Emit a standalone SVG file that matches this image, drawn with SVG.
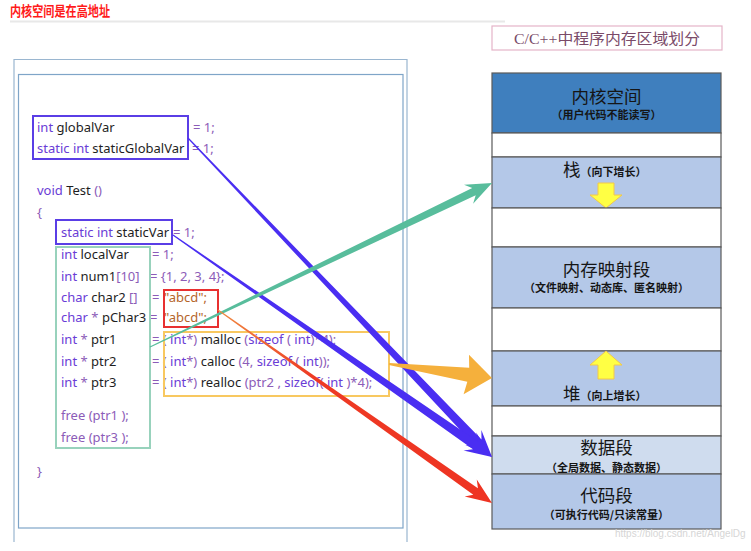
<svg xmlns="http://www.w3.org/2000/svg" width="751" height="551" viewBox="0 0 751 551">
<defs>
<style>
.code{font-family:"Noto Sans","Liberation Sans",sans-serif;font-size:13px}
.k{fill:#6a3cd6}.o{fill:#8c5cb8}.d{fill:#1e1e1e}.s{fill:#b5652a}
.mt{font-family:"Noto Sans CJK SC","Noto Sans",sans-serif;font-size:17.5px;fill:#151515;text-anchor:middle}
.ms{font-family:"Noto Sans CJK SC","Noto Sans",sans-serif;font-size:11px;font-weight:bold;fill:#151515;text-anchor:middle}
.seg{stroke:#5a5a5a;stroke-width:1.2}
.lb{fill:#b4c8e8}
.wh{fill:#ffffff}
.yarrow{fill:#ffff44;stroke:#f2c84a;stroke-width:1}
</style>
<linearGradient id="gRed" x1="0" y1="0" x2="1" y2="0">
<stop offset="0" stop-color="#f08a40"/>
<stop offset="0.35" stop-color="#ee3a24"/>
<stop offset="1" stop-color="#ee3322"/>
</linearGradient>
</defs>
<rect width="751" height="551" fill="#ffffff"/>

<g id="title">
<text x="10" y="16" font-family="Noto Sans CJK SC,sans-serif" font-size="14" font-weight="bold" fill="#ff1a1a" textLength="100" lengthAdjust="spacingAndGlyphs">内核空间是在高地址</text>
<line x1="10" y1="21.5" x2="505" y2="21.5" stroke="#e8e8e8" stroke-width="2"/>
</g>

<g id="caption">
<rect x="492" y="26" width="230" height="24" fill="#ffffff" stroke="#e4b4c8" stroke-width="1.2"/>
<text x="607" y="43.5" font-family="Liberation Serif,Noto Sans CJK SC,serif" font-size="15" fill="#7a4a68" text-anchor="middle" textLength="186" lengthAdjust="spacingAndGlyphs">C/C++中程序内存区域划分</text>
</g>

<g id="code-frame">
<path d="M14,542 L14,59.5 L407,59.5 L407,542" fill="none" stroke="#9ab6d0" stroke-width="1.2"/>
<rect x="18.5" y="74.5" width="384.5" height="453.5" fill="none" stroke="#7fa5c8" stroke-width="1.2"/>
</g>

<g id="code">
<text class="code" x="37" y="132"><tspan class="k">int</tspan> <tspan class="d">globalVar</tspan></text>
<text class="code o" x="193" y="132">= 1;</text>
<text class="code" x="37" y="153"><tspan class="k">static int</tspan> <tspan class="d">staticGlobalVar</tspan></text>
<text class="code o" x="192" y="153">= 1;</text>
<text class="code" x="37" y="195"><tspan class="k">void</tspan> <tspan class="d">Test</tspan> <tspan class="o">()</tspan></text>
<text class="code o" x="37" y="217">{</text>
<text class="code" x="61" y="237"><tspan class="k">static int</tspan> <tspan class="d">staticVar</tspan></text>
<text class="code o" x="173" y="237">= 1;</text>
<text class="code" x="61" y="259"><tspan class="k">int</tspan> <tspan class="d">localVar</tspan></text>
<text class="code o" x="152" y="259">= 1;</text>
<text class="code" x="61" y="281"><tspan class="k">int</tspan> <tspan class="d">num1</tspan><tspan class="o">[10]</tspan></text>
<text class="code o" x="150" y="281">= {1, 2, 3, 4};</text>
<text class="code" x="61" y="302"><tspan class="k">char</tspan> <tspan class="d">char2</tspan> <tspan class="o">[]</tspan></text>
<text class="code o" x="152" y="302">=</text>
<text class="code s" x="164" y="302">"abcd";</text>
<text class="code" x="61" y="322"><tspan class="k">char</tspan> <tspan class="o">*</tspan> <tspan class="d">pChar3</tspan></text>
<text class="code o" x="150" y="322">=</text>
<text class="code s" x="164" y="322">"abcd";</text>
<text class="code" x="61" y="344"><tspan class="k">int</tspan> <tspan class="o">*</tspan> <tspan class="d">ptr1</tspan></text>
<text class="code" x="152" y="344"><tspan class="o">= ( </tspan><tspan class="k">int</tspan><tspan class="o">*)</tspan> <tspan class="d">malloc</tspan> <tspan class="o">(</tspan><tspan class="k">sizeof</tspan> <tspan class="o">( </tspan><tspan class="k">int</tspan><tspan class="o">)*4);</tspan></text>
<text class="code" x="61" y="366"><tspan class="k">int</tspan> <tspan class="o">*</tspan> <tspan class="d">ptr2</tspan></text>
<text class="code" x="152" y="366"><tspan class="o">= ( </tspan><tspan class="k">int</tspan><tspan class="o">*)</tspan> <tspan class="d">calloc</tspan> <tspan class="o">(4,</tspan> <tspan class="k">sizeof</tspan> <tspan class="o">( </tspan><tspan class="k">int</tspan><tspan class="o">));</tspan></text>
<text class="code" x="61" y="387"><tspan class="k">int</tspan> <tspan class="o">*</tspan> <tspan class="d">ptr3</tspan></text>
<text class="code" x="152" y="387"><tspan class="o">= ( </tspan><tspan class="k">int</tspan><tspan class="o">*)</tspan> <tspan class="d">realloc</tspan> <tspan class="o">(ptr2 ,</tspan> <tspan class="k">sizeof</tspan><tspan class="o">( </tspan><tspan class="k">int</tspan> <tspan class="o">)*4);</tspan></text>
<text class="code o" x="61" y="420">free (ptr1 );</text>
<text class="code o" x="61" y="442">free (ptr3 );</text>
<text class="code o" x="37" y="476">}</text>
</g>

<g id="code-boxes" fill="none" stroke-width="2">
<rect id="box-global" x="33" y="116" width="155" height="43" stroke="#5a3ee6"/>
<rect id="box-static" x="56" y="220" width="116" height="24" stroke="#5a3ee6"/>
<rect id="box-local" x="56" y="247" width="94" height="201" stroke="#98d2bc"/>
<rect id="box-string" x="164" y="290" width="54" height="37" stroke="#e83030"/>
<rect id="box-heap" x="164" y="332" width="225" height="64" stroke="#f8c860"/>
</g>

<g id="memory">
<g id="seg-kernel">
<rect x="492" y="73" width="229" height="60" fill="#3f7fbe" class="seg"/>
<text class="mt" x="606.5" y="103">内核空间</text>
<text class="ms" x="606.5" y="119">（用户代码不能读写）</text>
</g>
<rect x="492" y="133" width="229" height="24" class="wh seg"/>
<g id="seg-stack">
<rect x="492" y="157" width="229" height="51" class="lb seg"/>
<text x="563" y="176" font-family="Noto Sans CJK SC,sans-serif" fill="#151515"><tspan font-size="17.5">栈</tspan><tspan font-size="11" font-weight="bold">（向下增长）</tspan></text>
<path class="yarrow" d="M598,183 L614,183 L614,195 L622,195 L606,208 L590,195 L598,195 Z"/>
</g>
<rect x="492" y="208" width="229" height="39" class="wh seg"/>
<g id="seg-mmap">
<rect x="492" y="247" width="229" height="61" class="lb seg"/>
<text class="mt" x="606.5" y="276">内存映射段</text>
<text class="ms" x="606.5" y="292" font-size="12">（文件映射、动态库、匿名映射）</text>
</g>
<rect x="492" y="308" width="229" height="43" class="wh seg"/>
<g id="seg-heap">
<rect x="492" y="351" width="229" height="55" class="lb seg"/>
<path class="yarrow" d="M606,351 L622,365 L614,365 L614,379 L598,379 L598,365 L590,365 Z"/>
<text x="563" y="400" font-family="Noto Sans CJK SC,sans-serif" fill="#151515"><tspan font-size="17.5">堆</tspan><tspan font-size="11" font-weight="bold">（向上增长）</tspan></text>
</g>
<rect x="492" y="406" width="229" height="30" class="wh seg"/>
<g id="seg-data">
<rect x="492" y="436" width="229" height="38" fill="#cfdcee" class="seg"/>
<text class="mt" x="606.5" y="454" font-size="16.5">数据段</text>
<text class="ms" x="606.5" y="471.5" font-size="10.5">（全局数据、静态数据）</text>
</g>
<g id="seg-code">
<rect x="492" y="474" width="229" height="55" class="lb seg"/>
<text class="mt" x="606.5" y="502">代码段</text>
<text class="ms" x="606.5" y="519">（可执行代码/只读常量）</text>
</g>
</g>

<g id="connectors">
<path fill="#4a2ef2" transform="translate(188,138) rotate(46.38)" d="M0,-0.6 L420.7,-4.5 L413.7,-11 L440.7,0 L413.7,11 L420.7,4.5 L0,0.6 Z"/>
<path fill="#4a2ef2" transform="translate(173,235) rotate(34.83)" d="M0,-0.6 L368.6,-4.5 L361.6,-11 L388.6,0 L361.6,11 L368.6,4.5 L0,0.6 Z"/>
<path fill="#58bd9c" transform="translate(150,347) rotate(-25.62)" d="M0,-0.5 L359.3,-4 L353.3,-10.5 L379.3,0 L353.3,10.5 L359.3,4 L0,0.5 Z"/>
<path fill="#f5b03c" transform="translate(389,364) rotate(7.74)" d="M0,-1 L80,-7 L78,-20 L103.9,0 L78,20 L80,7 L0,1 Z"/>
<path fill="url(#gRed)" transform="translate(218,310) rotate(35.16)" d="M0,-0.5 L315.1,-4 L309.1,-10.5 L335.1,0 L309.1,10.5 L315.1,4 L0,0.5 Z"/>
</g>

<text x="615" y="537" font-family="Liberation Sans,sans-serif" font-size="10" fill="#d6d6d6">https://blog.csdn.net/AngelDg</text>
</svg>
